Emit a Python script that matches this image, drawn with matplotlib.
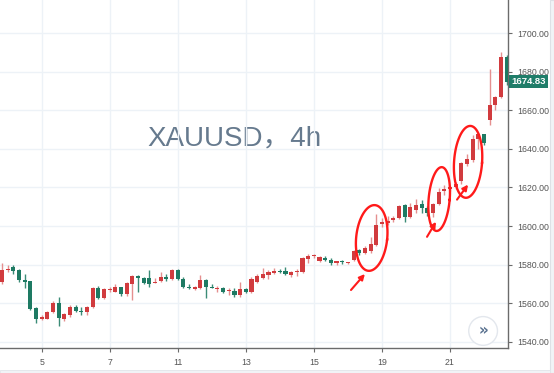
import numpy as np
import pandas as pd
import matplotlib
matplotlib.use('Agg')
from matplotlib import pyplot as plt
from matplotlib.patches import Rectangle

# 4h candles of XAUUSD (red = up, green = down)
opens = [1570.8, 1577.2, 1578.6, 1577.0, 1571.8, 1571.3, 1557.5, 1551.5, 1552.0, 1555.5,
         1560.0, 1552.0, 1554.0, 1558.0, 1556.0, 1555.3, 1558.0, 1567.8, 1562.6, 1566.6,
         1566.0, 1568.2, 1564.7, 1569.8, 1574.0, 1573.0, 1573.0, 1570.5, 1571.3, 1573.4,
         1572.3, 1577.0, 1572.3, 1568.5, 1567.3, 1567.8, 1572.0, 1568.6, 1567.3, 1568.0,
         1566.4, 1566.5, 1564.0, 1567.3, 1565.8, 1570.8, 1573.2, 1574.5, 1575.5, 1576.5,
         1576.5, 1574.5, 1576.0, 1576.0, 1583.0, 1584.5, 1581.8, 1583.5, 1582.6, 1580.7,
         1581.6, 1580.8, 1582.5, 1587.5, 1585.8, 1587.0, 1590.2, 1601.0, 1601.8, 1603.3,
         1604.0, 1610.8, 1604.5, 1608.5, 1611.2, 1609.6, 1606.6, 1611.3, 1618.1, 1619.1,
         1620.0, 1623.6, 1632.1, 1634.2, 1645.0, 1647.6, 1655.0, 1662.8, 1667.0, 1687.7]
highs = [1580.7, 1580.0, 1579.7, 1577.5, 1575.0, 1571.5, 1558.0, 1554.0, 1556.0, 1561.0,
         1563.0, 1555.0, 1559.0, 1559.0, 1557.8, 1558.5, 1568.5, 1569.0, 1567.8, 1568.5,
         1569.8, 1568.5, 1571.0, 1574.5, 1574.5, 1573.5, 1577.0, 1573.0, 1576.0, 1575.0,
         1577.5, 1577.5, 1573.3, 1570.0, 1568.8, 1574.6, 1572.3, 1570.0, 1569.0, 1568.6,
         1568.0, 1568.0, 1571.0, 1568.0, 1573.5, 1575.0, 1578.0, 1577.0, 1578.0, 1577.5,
         1578.5, 1576.8, 1577.5, 1583.8, 1585.5, 1585.7, 1584.3, 1584.5, 1583.5, 1582.0,
         1582.6, 1581.5, 1587.5, 1588.3, 1589.8, 1594.5, 1606.0, 1604.0, 1605.0, 1605.0,
         1611.0, 1611.5, 1612.0, 1613.9, 1613.4, 1610.5, 1611.8, 1619.6, 1621.2, 1620.8,
         1623.0, 1633.0, 1637.3, 1647.2, 1648.5, 1648.0, 1681.4, 1667.5, 1690.3, 1688.5]
lows = [1569.8, 1576.0, 1575.0, 1571.0, 1568.0, 1556.5, 1549.5, 1551.0, 1552.0, 1555.0,
        1548.0, 1550.5, 1553.0, 1555.5, 1554.0, 1553.8, 1557.5, 1562.0, 1562.0, 1566.0,
        1565.7, 1563.7, 1563.5, 1561.5, 1566.0, 1570.0, 1568.5, 1570.3, 1570.8, 1571.3,
        1572.0, 1572.0, 1567.8, 1567.3, 1566.7, 1567.5, 1562.5, 1567.6, 1566.0, 1565.5,
        1564.0, 1563.3, 1563.3, 1565.5, 1565.5, 1570.3, 1572.7, 1572.5, 1575.0, 1575.5,
        1574.5, 1573.5, 1574.0, 1575.5, 1581.0, 1583.4, 1581.2, 1582.0, 1579.7, 1579.8,
        1580.3, 1580.5, 1582.0, 1584.8, 1585.5, 1586.0, 1589.8, 1599.5, 1600.5, 1602.0,
        1603.5, 1602.0, 1604.0, 1606.6, 1606.6, 1605.0, 1604.5, 1610.8, 1616.0, 1618.0,
        1619.0, 1622.0, 1631.0, 1633.0, 1640.0, 1642.0, 1652.6, 1660.0, 1666.5, 1673.0]
closes = [1577.0, 1577.9, 1576.5, 1571.8, 1570.7, 1557.0, 1552.0, 1553.0, 1555.5, 1560.0,
          1552.5, 1554.5, 1558.0, 1556.0, 1555.2, 1558.0, 1567.8, 1562.6, 1567.3, 1567.5,
          1568.2, 1564.7, 1570.3, 1574.0, 1573.0, 1570.5, 1570.0, 1571.0, 1573.4, 1572.3,
          1577.0, 1572.3, 1568.3, 1567.8, 1568.2, 1572.0, 1568.3, 1567.8, 1568.0, 1566.0,
          1567.0, 1564.0, 1567.3, 1565.8, 1572.3, 1574.0, 1575.0, 1576.0, 1576.5, 1576.0,
          1575.0, 1576.0, 1576.6, 1583.3, 1584.3, 1584.8, 1583.8, 1582.6, 1580.7, 1581.6,
          1581.1, 1581.0, 1586.8, 1585.8, 1588.8, 1590.5, 1600.5, 1602.0, 1602.8, 1604.0,
          1610.5, 1604.5, 1609.8, 1611.0, 1609.1, 1606.6, 1611.3, 1617.6, 1619.1, 1620.2,
          1622.0, 1632.5, 1634.7, 1645.1, 1647.6, 1643.3, 1662.7, 1667.0, 1687.7, 1674.83]

day_ticks = [7, 19, 31, 43, 55, 67, 79]
day_labels = ['5', '7', '11', '13', '15', '19', '21']
price_ticks = [1540, 1560, 1580, 1600, 1620, 1640, 1660, 1680, 1700]
last_price = closes[-1]

UP = '#d13b3e'
DOWN = '#1e7a63'
UP_WICK = '#e58f8f'
DOWN_WICK = '#3b8c77'
MARK = '#ff1a1a'

df = pd.DataFrame({'open': opens, 'high': highs, 'low': lows, 'close': closes})
df['up'] = df['close'] >= df['open']

fig = plt.figure(figsize=(5.54, 3.73), dpi=100)
ax = fig.add_axes([0, 25 / 373, 508 / 554, 348 / 373])
ax.set_xlim(-0.35, 89.24)
ax.set_ylim(1536.7, 1717.3)

# candles
body_low = df[['open', 'close']].min(axis=1)
body_h = (df['close'] - df['open']).abs().clip(lower=0.6)
ax.vlines(df.index, df['low'], df['high'],
          colors=np.where(df['up'], UP_WICK, DOWN_WICK), lw=1, zorder=2)
ax.bar(df.index, body_h, bottom=body_low, width=0.72,
       color=np.where(df['up'], UP, DOWN), zorder=3)

# axes look
ax.set_xticks(day_ticks)
ax.set_xticklabels(day_labels)
ax.set_yticks(price_ticks)
ax.set_yticklabels(['%.2f' % p for p in price_ticks])
ax.yaxis.tick_right()
ax.grid(color='#edf2f7', lw=1, zorder=0)
for side in ['top', 'left']:
    ax.spines[side].set_visible(False)
for side in ['right', 'bottom']:
    ax.spines[side].set_color('#6b6b6b')
    ax.spines[side].set_linewidth(1)
ax.tick_params(axis='both', colors='#6b6b6b', labelcolor='#555555', length=3,
               labelsize=6.3, width=0.8)
ax.tick_params(axis='x', pad=4)
ax.tick_params(axis='y', pad=3.5)
for lab in ax.get_xticklabels() + ax.get_yticklabels():
    lab.set_family('Liberation Sans')

# watermark
ax.text(0.461, 0.603, 'XAUUSD，4h', transform=ax.transAxes, ha='center', va='center',
        fontsize=20, color='#667a8e', family=['Liberation Sans', 'Noto Sans CJK SC'],
        zorder=1)

# last price tag
ax.annotate('%.2f' % last_price, xy=(1.0, last_price), xycoords=('axes fraction', 'data'),
            xytext=(2.5, 0), textcoords='offset points', ha='left', va='center',
            fontsize=6.8, fontweight='bold', color='white', family='Liberation Sans',
            bbox=dict(boxstyle='square,pad=0.22', fc='#1f7d69', ec='none'),
            annotation_clip=False)


# hand drawn red marks
def draw_ellipse(center, w, h, tilt):
    cx, cy = ax.transData.transform(center)
    t = np.linspace(0, 2 * np.pi, 120)
    a = np.deg2rad(tilt)
    x = w / 2 * np.cos(t)
    y = h / 2 * np.sin(t)
    xr = cx + x * np.cos(a) - y * np.sin(a)
    yr = cy + x * np.sin(a) + y * np.cos(a)
    pts = ax.transData.inverted().transform(np.column_stack([xr, yr]))
    ax.plot(pts[:, 0], pts[:, 1], color=MARK, lw=1.7, zorder=5)


draw_ellipse((65.2, 1593.8), 31, 66, -6)
draw_ellipse((77.1, 1614.0), 21, 64, -5)
draw_ellipse((82.2, 1633.3), 28, 72, -4)

for tail, tip in [((61.55, 1566.8), (64.0, 1575.1)),
                  ((74.96, 1594.4), (76.54, 1602.2)),
                  ((80.25, 1613.7), (82.19, 1621.5))]:
    ax.annotate('', xy=tip, xytext=tail,
                arrowprops=dict(arrowstyle='-|>', color=MARK, lw=1.5, mutation_scale=8,
                                shrinkA=0, shrinkB=0), zorder=5)

# scroll button
ax.text(0.951, 0.049, '»', transform=ax.transAxes, ha='center', va='center',
        fontsize=11, fontweight='bold', color='#5a7290', zorder=6,
        bbox=dict(boxstyle='circle,pad=0.45', fc='white', ec='#e3e7ed', lw=1))

# panel border bits (behind the axes so tick labels stay on top)
fig.add_artist(Rectangle((550 / 554, 0), 4 / 554, 1, transform=fig.transFigure,
                         fc='#f1f3f6', ec='#dde1e6', lw=0.8, zorder=-1))
fig.add_artist(Rectangle((0, 0), 550 / 554, 3 / 373, transform=fig.transFigure,
                         fc='#f1f3f6', ec='#e2e5ea', lw=0.6, zorder=-1))

fig.savefig('out.png', dpi=100)
